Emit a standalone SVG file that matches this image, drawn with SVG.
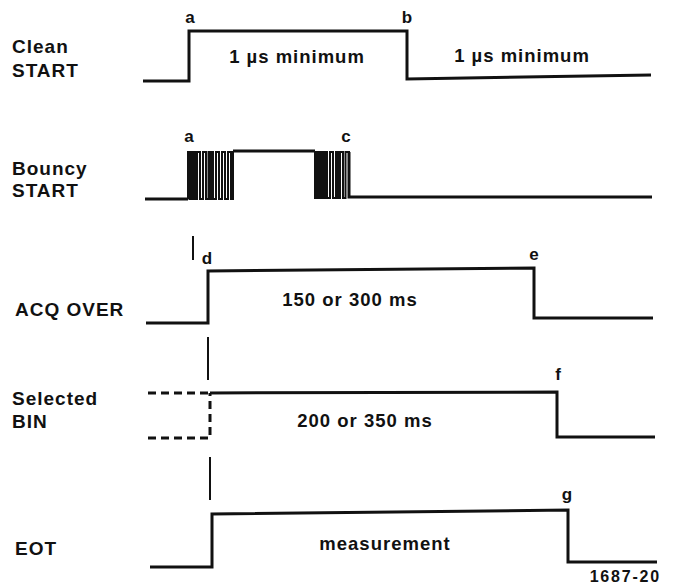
<svg xmlns="http://www.w3.org/2000/svg" width="675" height="587" viewBox="0 0 675 587">
<style>
.w{fill:none;stroke:#111;stroke-width:3;stroke-linejoin:miter;stroke-linecap:butt}
.b{fill:none;stroke:#111;stroke-width:2;stroke-linejoin:miter}
.m{fill:none;stroke:#111;stroke-width:2}
.d{fill:none;stroke:#111;stroke-width:3;stroke-dasharray:8 5}
.lab{font-family:"Liberation Sans",Arial,sans-serif;font-weight:bold;font-size:19px;letter-spacing:1px;fill:#111}
.t{font-family:"Liberation Sans",Arial,sans-serif;font-weight:bold;font-size:18.5px;letter-spacing:1px;fill:#111;text-anchor:middle}
.l{font-family:"Liberation Sans",Arial,sans-serif;font-weight:bold;font-size:17px;fill:#111;text-anchor:middle}
</style>
<rect width="675" height="587" fill="#fff"/>
<g id="clean-start">
<text class="lab" x="12" y="53">Clean</text>
<text class="lab" x="12" y="77">START</text>
<path class="w" d="M143,81 H189 V31 H407 V79 L651,75"/>
<text class="l" x="190" y="23">a</text>
<text class="l" x="407" y="23">b</text>
<text class="t" x="297" y="63">1 µs minimum</text>
<text class="t" x="522" y="62">1 µs minimum</text>
</g>
<g id="bouncy-start">
<text class="lab" x="12" y="175">Bouncy</text>
<text class="lab" x="12" y="197">START</text>
<path class="w" d="M145,199 H188"/>
<path class="b" d="M188,199 V152 H189.5 V199 H191 V152 H192.5 V199 H194 V152 H195.5 V199 H197 V152 H200 V199 H203 V152 H206 V199 H208.5 V152 H210 V199 H211.5 V152 H213 V199 H216 V152 H219 V199 H222 V152 H225 V199 H228 V152 H231 V199 H233 V151"/>
<path class="w" d="M233,151 H315"/>
<path class="b" d="M315,151 V198 H316.5 V152 H318 V198 H319.5 V152 H321 V198 H322.5 V152 H324 V198 H325.5 V152 H327 V198 H330 V152 H333 V198 H336 V152 H338 V198 H340 V152 H343 V198 H345.5 V152 H349 V197"/>
<path class="w" d="M349,152 V197 H652"/>
<text class="l" x="189" y="142">a</text>
<text class="l" x="346" y="142">c</text>
</g>
<g id="acq-over">
<text class="lab" x="15" y="316">ACQ OVER</text>
<path class="w" d="M146,323 H208 V271 L534,268 V318 H653"/>
<text class="l" x="207" y="264">d</text>
<text class="l" x="534" y="260">e</text>
<text class="t" x="350" y="306">150 or 300 ms</text>
</g>
<g id="selected-bin">
<text class="lab" x="12" y="405">Selected</text>
<text class="lab" x="12" y="428">BIN</text>
<path class="d" d="M148,393 H210"/>
<path class="d" d="M148,438 H210 V393"/>
<path class="w" d="M210,393 L557,392 V437 H655"/>
<text class="l" x="558" y="380">f</text>
<text class="t" x="365" y="427">200 or 350 ms</text>
</g>
<g id="eot">
<text class="lab" x="15" y="555">EOT</text>
<path class="w" d="M150,567 H212 V514 L568,510 V562 H657"/>
<text class="l" x="567" y="500">g</text>
<text class="t" x="385" y="550">measurement</text>
</g>
<g id="connectors">
<path class="m" d="M193,236 V260"/>
<path class="m" d="M208,337 V380"/>
<path class="m" d="M210,457 V500"/>
</g>
<text class="t" x="661" y="582" style="text-anchor:end;font-size:16px;letter-spacing:1.8px">1687-20</text>
</svg>
